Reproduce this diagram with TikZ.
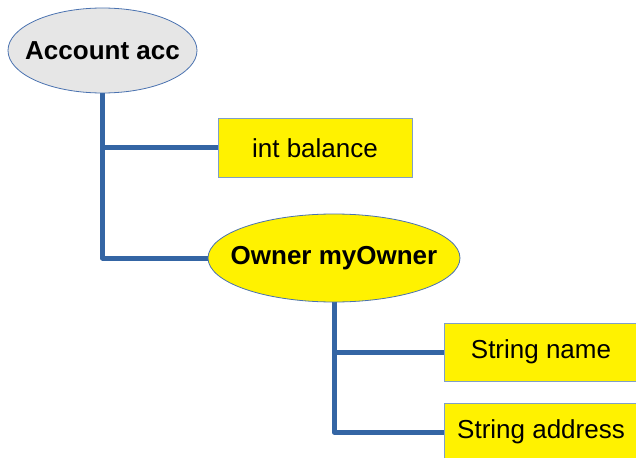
\documentclass[tikz,border=0pt]{standalone}
\usepackage{fontspec}
\setmainfont{Liberation Sans}
\usetikzlibrary{shapes.geometric,backgrounds}
\definecolor{linkblue}{HTML}{3465A4}
\definecolor{edgeblue}{HTML}{4A72B0}
\definecolor{boxedge}{HTML}{7F9FC8}
\definecolor{rootgray}{HTML}{E6E6E6}
\begin{document}
\begin{tikzpicture}[x=1pt,y=-1pt,
  every node/.style={font=\fontsize{26}{30}\selectfont, inner sep=0pt},
  objnode/.style={ellipse, draw=edgeblue, line width=0.8pt},
  objtext/.style={font=\fontsize{26}{30}\selectfont\bfseries},
  fieldbox/.style={rectangle, fill=yellow, draw=boxedge, line width=1pt,
    minimum width=194pt, minimum height=58pt},
  link/.style={draw=linkblue, line width=5pt, line join=round}]
  \useasboundingbox (0,0) rectangle (636,457);
  \clip (0,0) rectangle (636,457);

  % objects: the ellipse is sized on its own, the name sits at its centre
  \node[objnode, fill=rootgray, minimum width=189pt, minimum height=85pt,
        label={[objtext]center:Account acc}] (acc) at (102.5,50.5) {};
  \node[objnode, fill=yellow, minimum width=252pt, minimum height=88pt,
        label={[objtext]center:Owner myOwner}] (own) at (334,258) {};

  % fields
  \node[fieldbox] (bal) at (315,148) {int balance};
  \node[fieldbox] (name) at (541,352) {String name};
  \node[fieldbox] (addr) at (541,432) {String address};

  % tree links, drawn behind the nodes
  \begin{pgfonlayer}{background}
    \draw[link] (acc.south) |- (bal.west);
    \draw[link] (acc.south) |- (own.west);
    \draw[link] (own.south) |- (name.west);
    \draw[link] (own.south) |- (addr.west);
  \end{pgfonlayer}
\end{tikzpicture}
\end{document}
